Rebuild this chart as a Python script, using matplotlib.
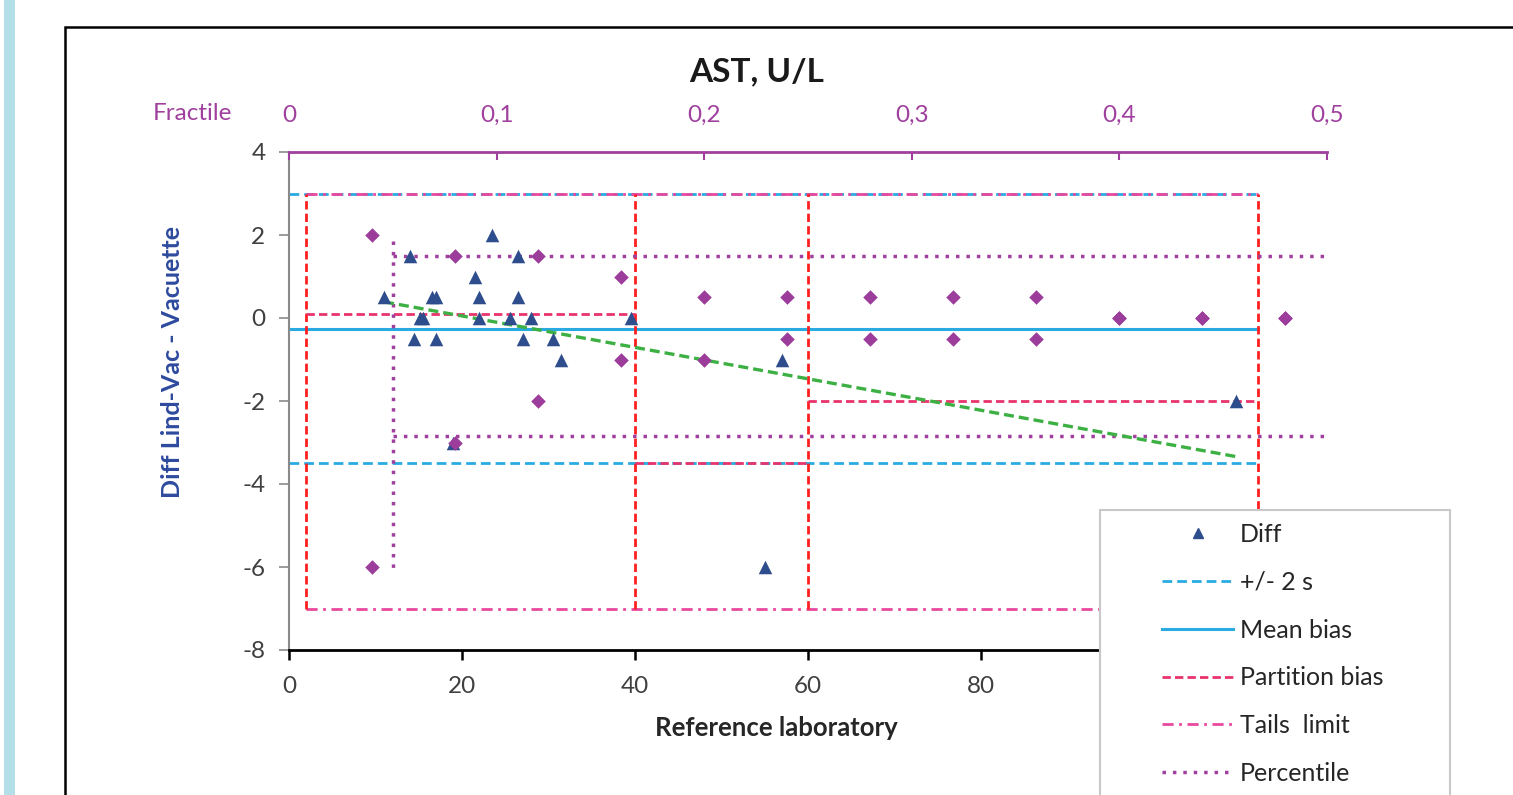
import matplotlib
matplotlib.use("Agg")
import matplotlib.pyplot as plt
from matplotlib.patches import Rectangle
from matplotlib.lines import Line2D

plt.rcParams['font.family'] = ['Lato', 'DejaVu Sans']
plt.rcParams['axes.unicode_minus'] = False

# ---------------- data ----------------
diff_x = [11, 14, 14.5, 15.1, 15.5, 16.5, 17, 17, 19, 21.5, 22, 22, 23.5, 25.5,
          26.5, 26.5, 27, 28, 30.5, 31.5, 39.5, 55, 57, 109.5]
diff_y = [0.5, 1.5, -0.5, 0, 0, 0.5, 0.5, -0.5, -3, 1, 0.5, 0, 2, 0,
          1.5, 0.5, -0.5, 0, -0.5, -1, 0, -6, -1, -2]

frac_p = [0.04, 0.08, 0.12, 0.16, 0.20, 0.24, 0.28, 0.32, 0.36, 0.40, 0.44, 0.48]
frac_upper = [2, 1.5, 1.5, 1, 0.5, 0.5, 0.5, 0.5, 0.5, 0, 0, 0]
frac_lower = [-6, -3, -2, -1, -1, -0.5, -0.5, -0.5, -0.5, 0, 0, 0]

sd2_upper = 3.0
sd2_lower = -3.5
mean_bias = -0.27
range_x = [0, 112]

partition_edges = [2, 40, 60, 112]
partition_bias = [0.1, -3.5, -2.0]

tails_upper = 3.0
tails_lower = -7.0

pct_x0 = 12
pct_x1 = 120
pct_upper = 1.5
pct_lower = -2.85
pct_vert = [1.85, -6.05]

reg_x = [11, 109.5]
reg_y = [0.39, -3.34]

x_ticks = [0, 20, 40, 60, 80, 100, 120]
x_labels = ['0', '20', '40', '60', '80', '', '']   # 100 / 120 are hidden behind the legend
y_ticks = [4, 2, 0, -2, -4, -6, -8]
frac_ticks = [0, 0.1, 0.2, 0.3, 0.4, 0.5]
frac_labels = ['0', '0,1', '0,2', '0,3', '0,4', '0,5']

# ---------------- colors ----------------
c_diff = '#2e4d8c'
c_diam = '#9c3d9c'
c_blue = '#29abe2'
c_part = '#e8336d'
c_tail = '#e8489e'
c_pct = '#a0409e'
c_green = '#3cb043'
c_red = '#ff1f1f'

W, H = 1513, 795
fig = plt.figure(figsize=(W / 100, H / 100), dpi=100)
fig.patch.set_facecolor('white')

# decorative page elements
fig.patches.append(Rectangle((4 / W, 0), 11 / W, 1, transform=fig.transFigure,
                             facecolor='#b2dfe8', edgecolor='none', zorder=0))
fig.patches.append(Rectangle((65 / W, -0.2), 2, 1.2 - 27 / H, transform=fig.transFigure,
                             facecolor='none', edgecolor='black', lw=1.8, zorder=0))

ax = fig.add_axes([289 / W, 1 - 650 / H, (1327 - 289) / W, (650 - 152) / H])
ax.set_xlim(0, 120)
ax.set_ylim(-8, 4)
ax.set_facecolor('none')

lw = 2.0
dash = (0, (3, 1.5))
dashdot = (0, (4, 2, 1, 2))
dots = (0, (1, 2))
# +/- 2 s
ax.plot(range_x, [sd2_upper] * 2, color=c_blue, ls=(0, (3.5, 1.8)), lw=lw, zorder=2)
ax.plot(range_x, [sd2_lower] * 2, color=c_blue, ls=(0, (3.5, 1.8)), lw=lw, zorder=2)
# mean bias
ax.plot(range_x, [mean_bias] * 2, color=c_blue, lw=2.2, zorder=2)
# tails limits
ax.plot([partition_edges[0], partition_edges[-1]], [tails_upper] * 2, color=c_tail,
        ls=dashdot, lw=lw, zorder=3)
ax.plot([partition_edges[0], partition_edges[-1]], [tails_lower] * 2, color=c_tail,
        ls=dashdot, lw=lw, zorder=3)
# partition boundaries
for xe in partition_edges:
    ax.plot([xe, xe], [tails_lower, tails_upper], color=c_red, ls=dash, lw=lw, zorder=3)
# partition bias
for i, b in enumerate(partition_bias):
    ax.plot([partition_edges[i], partition_edges[i + 1]], [b, b], color=c_part,
            ls=dash, lw=lw, zorder=3)
# percentile
ax.plot([pct_x0, pct_x1], [pct_upper] * 2, color=c_pct, ls=dots, lw=2.5, zorder=3, clip_on=False)
ax.plot([pct_x0, pct_x1], [pct_lower] * 2, color=c_pct, ls=dots, lw=2.5, zorder=3, clip_on=False)
ax.plot([pct_x0, pct_x0], pct_vert, color=c_pct, ls=dots, lw=2.5, zorder=3)
# regression
ax.plot(reg_x, reg_y, color=c_green, ls=dash, lw=2.4, zorder=4)
# diff points
ax.scatter(diff_x, diff_y, marker='^', s=95, color=c_diff, zorder=5, linewidths=0)

ax.set_xticks(x_ticks)
ax.set_xticklabels(x_labels)
ax.set_yticks(y_ticks)
ax.tick_params(axis='both', labelsize=17.5, colors='#404040')
ax.tick_params(axis='x', direction='out', length=7, width=1.8, color='black', pad=12)
ax.tick_params(axis='y', direction='out', length=7, width=1.2, color='#8a8a8a', pad=10)
ax.spines['top'].set_visible(False)
ax.spines['right'].set_visible(False)
ax.spines['left'].set_color('#8a8a8a')
ax.spines['left'].set_linewidth(1.5)
ax.spines['bottom'].set_color('black')
ax.spines['bottom'].set_linewidth(2.0)

ax.set_xlabel('Reference laboratory', fontsize=18.5, fontweight='bold', color='#262626')
ax.set_ylabel('Diff Lind-Vac - Vacuette', fontsize=18, fontweight='bold', color='#2e4a9e')
ax.xaxis.set_label_coords((776.5 - 289) / 1038, (650 - 728) / 498)
ax.yaxis.set_label_coords((172 - 289) / 1038, (650 - 362) / 498)
ax.xaxis.label.set_va('center')
ax.yaxis.label.set_va('center')

# fractile axis
ax2 = ax.twiny()
ax2.set_xlim(0, 0.5)
ax2.set_facecolor('none')
ax2.scatter(frac_p, frac_upper, marker='D', s=55, color=c_diam, zorder=5, linewidths=0)
ax2.scatter(frac_p, frac_lower, marker='D', s=55, color=c_diam, zorder=5, linewidths=0)
ax2.set_xticks(frac_ticks)
ax2.set_xticklabels(frac_labels)
ax2.tick_params(axis='x', direction='in', length=6, width=1.5, color=c_pct,
                labelcolor=c_pct, labelsize=17.5, pad=19)
for s in ['left', 'right', 'bottom']:
    ax2.spines[s].set_visible(False)
ax2.spines['top'].set_color(c_pct)
ax2.spines['top'].set_linewidth(2.0)

fig.text(192 / W, 1 - 114 / H, 'Fractile', color=c_pct, fontsize=17.5, ha='center', va='center')
fig.text(757 / W, 1 - 72 / H, 'AST, U/L', fontsize=24, fontweight='bold', color='#1a1a1a',
         ha='center', va='center')

# legend frame
fig.patches.append(Rectangle((1100 / W, -0.2), (1450 - 1100) / W, 0.2 + 1 - 510 / H,
                             transform=fig.transFigure, facecolor='white',
                             edgecolor='#c8c8c8', lw=1.5, zorder=3))
handles = [
    Line2D([], [], marker='^', color=c_diff, ls='none', markersize=7),
    Line2D([], [], color=c_blue, ls=(0, (3.5, 1.8)), lw=lw),
    Line2D([], [], color=c_blue, lw=2.2),
    Line2D([], [], color=c_part, ls=dash, lw=lw),
    Line2D([], [], color=c_tail, ls=dashdot, lw=lw),
    Line2D([], [], color=c_pct, ls=dots, lw=2.5),
]
labels = ['Diff', '+/- 2 s', 'Mean bias', 'Partition bias', 'Tails  limit', 'Percentile']
leg = fig.legend(handles, labels, loc='upper left', bbox_to_anchor=(1162 / W, 1 - 523 / H),
                 frameon=False, fontsize=18, handlelength=2.85, handletextpad=0.28,
                 labelspacing=0.99, borderpad=0, borderaxespad=0)
for t in leg.get_texts():
    t.set_color('#262626')

fig.savefig('out.png', dpi=100)
